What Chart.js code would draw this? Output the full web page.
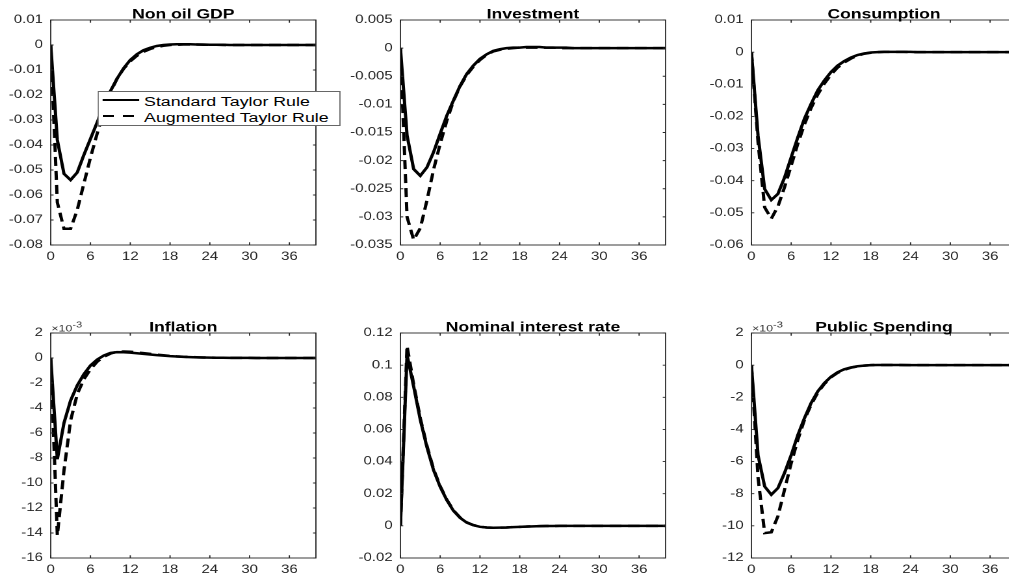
<!DOCTYPE html>
<html>
<head>
<meta charset="utf-8">
<script src="https://cdn.jsdelivr.net/npm/chart.js@4.4.1/dist/chart.umd.min.js"></script>
<style>
  html, body { margin: 0; padding: 0; background: #fff; overflow: hidden; width: 1009px; height: 576px; }
  /* the original figure is stretched horizontally, so the whole page is drawn narrow and widened */
  #page { position: absolute; left: 0; top: 0; width: 777px; height: 576px; transform: scaleX(1.3); transform-origin: 0 0; }
  #page canvas { position: absolute; }
  #legend { position: absolute; left: 75.4px; top: 91px; width: 187px; height: 35px; box-sizing: border-box;
            border: 1px solid #666; background: #fff; z-index: 5; }
  .sample { position: absolute; left: 3px; width: 27.7px; height: 2px; }
  .solid { background: #000; }
  .dashed { background: repeating-linear-gradient(to right, #000 0 9px, transparent 9px 15.4px); }
  .label { position: absolute; left: 34.4px; font: 13.7px "Liberation Sans", Arial, sans-serif; line-height: 15.5px;
           white-space: nowrap; color: #000; }
</style>
</head>
<body>
<div id="page">
  <canvas id="c0" width="248" height="275"></canvas>
  <canvas id="c1" width="248" height="275"></canvas>
  <canvas id="c2" width="248" height="275"></canvas>
  <canvas id="c3" width="248" height="275"></canvas>
  <canvas id="c4" width="248" height="275"></canvas>
  <canvas id="c5" width="248" height="275"></canvas>
  <div id="legend">
    <div class="sample solid" style="top:7px"></div>
    <div class="label" style="top:2px">Standard Taylor Rule</div>
    <div class="sample dashed" style="top:23px"></div>
    <div class="label" style="top:17.5px">Augmented Taylor Rule</div>
  </div>
</div>
<script>
// horizonte de la respuesta (trimestres)
const periods = [0, 1, 2, 3, 4, 5, 6, 7, 8, 9, 10, 11, 12, 13, 14, 15, 16, 17, 18, 19, 20,
                 21, 22, 23, 24, 25, 26, 27, 28, 29, 30, 31, 32, 33, 34, 35, 36, 37, 38, 39, 40];
const xTicks = [0, 6, 12, 18, 24, 30, 36];
const xMax = 40;

// Non oil GDP
const gdpTicks = ['-0.08', '-0.07', '-0.06', '-0.05', '-0.04', '-0.03', '-0.02', '-0.01', '0', '0.01'];
const gdpStandard = [0, -0.038, -0.0515, -0.054, -0.051, -0.044, -0.0375, -0.031, -0.0245, -0.0185,
  -0.0135, -0.0093, -0.006, -0.0037, -0.0021, -0.0011, -0.0004, 0, 0.0002, 0.0003,
  0.0003, 0.0003, 0.0002, 0.0002, 0.0001, 0.0001, 0.0001, 0, 0, 0,
  0, 0, 0, 0, 0, 0, 0, 0, 0, 0, 0];
const gdpAugmented = [0, -0.063, -0.0735, -0.0735, -0.066, -0.0555, -0.045, -0.0355, -0.0265, -0.019,
  -0.0135, -0.0095, -0.0065, -0.0043, -0.0027, -0.0016, -0.0008, -0.0003, 0, 0.0001,
  0.0002, 0.0002, 0.0002, 0.0001, 0.0001, 0.0001, 0, 0, 0, 0,
  0, 0, 0, 0, 0, 0, 0, 0, 0, 0, 0];

// Investment
const invTicks = ['-0.035', '-0.03', '-0.025', '-0.02', '-0.015', '-0.01', '-0.005', '0', '0.005'];
const invStandard = [0, -0.0155, -0.0215, -0.0227, -0.0212, -0.0185, -0.0152, -0.012, -0.0093, -0.0067,
  -0.0046, -0.0031, -0.0019, -0.0011, -0.0005, -0.0002, 0, 0.0001, 0.0001, 0.0002,
  0.0002, 0.0002, 0.0001, 0.0001, 0.0001, 0.0001, 0, 0, 0, 0,
  0, 0, 0, 0, 0, 0, 0, 0, 0, 0, 0];
const invAugmented = [0, -0.030, -0.0341, -0.032, -0.0271, -0.0216, -0.017, -0.0129, -0.0094, -0.0068,
  -0.0048, -0.0033, -0.0021, -0.0012, -0.0006, -0.0003, -0.0001, 0, 0.0001, 0.0001,
  0.0001, 0.0001, 0.0001, 0.0001, 0, 0, 0, 0, 0, 0,
  0, 0, 0, 0, 0, 0, 0, 0, 0, 0, 0];

// Consumption
const conTicks = ['-0.06', '-0.05', '-0.04', '-0.03', '-0.02', '-0.01', '0', '0.01'];
const conStandard = [0, -0.026, -0.0426, -0.046, -0.0441, -0.039, -0.0327, -0.0265, -0.0207, -0.0161,
  -0.0119, -0.0088, -0.0062, -0.0042, -0.0028, -0.0017, -0.0009, -0.0004, -0.0001, 0,
  0.0001, 0.0001, 0.0001, 0.0001, 0.0001, 0, 0, 0, 0, 0,
  0, 0, 0, 0, 0, 0, 0, 0, 0, 0, 0];
const conAugmented = [0, -0.028, -0.0483, -0.0518, -0.048, -0.042, -0.0353, -0.0285, -0.0225, -0.0174,
  -0.0132, -0.0098, -0.007, -0.0048, -0.0032, -0.002, -0.0011, -0.0005, -0.0002, 0,
  0.0001, 0.0001, 0.0001, 0.0001, 0, 0, 0, 0, 0, 0,
  0, 0, 0, 0, 0, 0, 0, 0, 0, 0, 0];

// Inflation (x 10^-3)
const infTicks = ['-16', '-14', '-12', '-10', '-8', '-6', '-4', '-2', '0', '2'];
const infStandard = [0, -8.1, -5.2, -3.4, -2.2, -1.3, -0.6, -0.13, 0.2, 0.4,
  0.47, 0.46, 0.43, 0.38, 0.33, 0.28, 0.23, 0.19, 0.15, 0.12,
  0.09, 0.07, 0.05, 0.04, 0.03, 0.02, 0.02, 0.01, 0.01, 0.01,
  0.01, 0, 0, 0, 0, 0, 0, 0, 0, 0, 0];
const infAugmented = [0, -14.2, -9.0, -5.0, -2.9, -1.7, -0.9, -0.3, 0.1, 0.35,
  0.5, 0.52, 0.5, 0.45, 0.39, 0.33, 0.27, 0.22, 0.17, 0.13,
  0.1, 0.08, 0.06, 0.04, 0.03, 0.02, 0.02, 0.01, 0.01, 0.01,
  0.01, 0, 0, 0, 0, 0, 0, 0, 0, 0, 0];

// Nominal interest rate
const rateTicks = ['-0.02', '0', '0.02', '0.04', '0.06', '0.08', '0.1', '0.12'];
const rateStandard = [0, 0.1065, 0.0867, 0.066, 0.049, 0.0347, 0.0243, 0.016, 0.0094, 0.005,
  0.002, 0.0004, -0.0006, -0.001, -0.0012, -0.0011, -0.001, -0.0008, -0.0006, -0.0005,
  -0.0003, -0.0002, -0.0001, -0.0001, 0, 0, 0, 0, 0, 0,
  0, 0, 0, 0, 0, 0, 0, 0, 0, 0, 0];
const rateAugmented = [0, 0.112, 0.088, 0.067, 0.0498, 0.0353, 0.0247, 0.0163, 0.0097, 0.0052,
  0.0022, 0.0005, -0.0005, -0.001, -0.0012, -0.0011, -0.001, -0.0008, -0.0006, -0.0004,
  -0.0003, -0.0002, -0.0001, -0.0001, 0, 0, 0, 0, 0, 0,
  0, 0, 0, 0, 0, 0, 0, 0, 0, 0, 0];

// Public Spending (x 10^-3)
const pubTicks = ['-12', '-10', '-8', '-6', '-4', '-2', '0', '2'];
const pubStandard = [0, -5.6, -7.55, -8.06, -7.65, -6.7, -5.6, -4.35, -3.3, -2.36,
  -1.64, -1.12, -0.72, -0.44, -0.26, -0.14, -0.07, -0.03, 0, 0.01,
  0.01, 0.01, 0.01, 0.01, 0, 0, 0, 0, 0, 0,
  0, 0, 0, 0, 0, 0, 0, 0, 0, 0, 0];
const pubAugmented = [0, -7.0, -10.45, -10.4, -9.4, -7.75, -6.1, -4.65, -3.4, -2.47,
  -1.72, -1.17, -0.76, -0.48, -0.29, -0.16, -0.08, -0.03, 0, 0.01,
  0.01, 0.01, 0.01, 0, 0, 0, 0, 0, 0, 0,
  0, 0, 0, 0, 0, 0, 0, 0, 0, 0, 0];

// posiciones de los ejes en la imagen final (px)
const STRETCH = 1.3;
const plotLefts = [51, 400.5, 751];
const plotTops = [19.5, 332.7];
const Y_AXIS_W = 39;
const TOP_PAD = 24;
const FONT = '"Liberation Sans", Arial, Helvetica, sans-serif';

const panels = [
  { id: 'c0', col: 0, row: 0, title: 'Non oil GDP', ticks: gdpTicks, std: gdpStandard, aug: gdpAugmented },
  { id: 'c1', col: 1, row: 0, title: 'Investment', ticks: invTicks, std: invStandard, aug: invAugmented },
  { id: 'c2', col: 2, row: 0, title: 'Consumption', ticks: conTicks, std: conStandard, aug: conAugmented },
  { id: 'c3', col: 0, row: 1, title: 'Inflation', ticks: infTicks, std: infStandard, aug: infAugmented, exponent: true },
  { id: 'c4', col: 1, row: 1, title: 'Nominal interest rate', ticks: rateTicks, std: rateStandard, aug: rateAugmented },
  { id: 'c5', col: 2, row: 1, title: 'Public Spending', ticks: pubTicks, std: pubStandard, aug: pubAugmented, exponent: true }
];

// caja, marcas interiores, titulo y multiplicador al estilo MATLAB
const boxAxes = {
  id: 'boxAxes',
  afterDraw(chart, args, opts) {
    const { ctx, chartArea: a, scales } = chart;
    ctx.save();
    ctx.strokeStyle = '#262626';
    ctx.lineWidth = 0.9;
    ctx.strokeRect(a.left, a.top, a.width, a.height);
    ctx.beginPath();
    scales.x.ticks.forEach(t => {
      const px = scales.x.getPixelForValue(t.value);
      ctx.moveTo(px, a.bottom); ctx.lineTo(px, a.bottom - 2.8);
      ctx.moveTo(px, a.top); ctx.lineTo(px, a.top + 2.8);
    });
    scales.y.ticks.forEach(t => {
      const py = scales.y.getPixelForValue(t.value);
      ctx.moveTo(a.left, py); ctx.lineTo(a.left + 2.2, py);
      ctx.moveTo(a.right, py); ctx.lineTo(a.right - 2.2, py);
    });
    ctx.stroke();

    ctx.fillStyle = '#000';
    ctx.font = 'bold 13.5px ' + FONT;
    ctx.textAlign = 'center';
    ctx.textBaseline = 'alphabetic';
    ctx.fillText(opts.title, (a.left + a.right) / 2, a.top - 1.5);

    if (opts.exponent) {
      ctx.fillStyle = '#333';
      ctx.textAlign = 'left';
      ctx.font = '9.5px ' + FONT;
      ctx.fillText('\u00d710', a.left + 0.5, a.top - 1.5);
      const w = ctx.measureText('\u00d710').width;
      ctx.font = '8.5px ' + FONT;
      ctx.fillText('-3', a.left + 0.5 + w, a.top - 5.5);
    }
    ctx.restore();
  }
};

const toPoints = (values) => periods.map((p, i) => ({ x: p, y: values[i] }));

panels.forEach(panel => {
  const canvas = document.getElementById(panel.id);
  canvas.style.left = (plotLefts[panel.col] / STRETCH - Y_AXIS_W) + 'px';
  canvas.style.top = (plotTops[panel.row] - TOP_PAD) + 'px';

  const yValues = panel.ticks.map(Number);

  new Chart(canvas, {
    type: 'line',
    data: {
      datasets: [
        { label: 'Standard Taylor Rule', data: toPoints(panel.std), borderColor: '#000', borderWidth: 2.5,
          pointRadius: 0, tension: 0, fill: false },
        { label: 'Augmented Taylor Rule', data: toPoints(panel.aug), borderColor: '#000', borderWidth: 2.5,
          borderDash: [9, 5], pointRadius: 0, tension: 0, fill: false }
      ]
    },
    options: {
      responsive: false,
      devicePixelRatio: 2,
      animation: false,
      events: [],
      layout: { padding: { left: 0, right: 5, top: TOP_PAD, bottom: 0 } },
      plugins: {
        legend: { display: false },
        tooltip: { enabled: false },
        boxAxes: { title: panel.title, exponent: !!panel.exponent }
      },
      scales: {
        x: {
          type: 'linear', min: 0, max: xMax,
          grid: { display: false, drawTicks: false },
          border: { display: false },
          afterBuildTicks: (scale) => { scale.ticks = xTicks.map(v => ({ value: v })); },
          afterFit: (scale) => { scale.height = 26; scale.paddingLeft = 0; scale.paddingRight = 0; },
          ticks: { autoSkip: false, maxRotation: 0, padding: 5, color: '#262626', font: { family: FONT, size: 11.5 } }
        },
        y: {
          type: 'linear', min: yValues[0], max: yValues[yValues.length - 1],
          grid: { display: false, drawTicks: false },
          border: { display: false },
          afterBuildTicks: (scale) => { scale.ticks = yValues.map(v => ({ value: v })); },
          afterFit: (scale) => { scale.width = Y_AXIS_W; scale.paddingTop = 0; scale.paddingBottom = 0; },
          ticks: {
            autoSkip: false, padding: 6, color: '#262626', font: { family: FONT, size: 11.5 },
            callback: (value, index) => panel.ticks[index]
          }
        }
      }
    },
    plugins: [boxAxes]
  });
});
</script>
</body>
</html>
